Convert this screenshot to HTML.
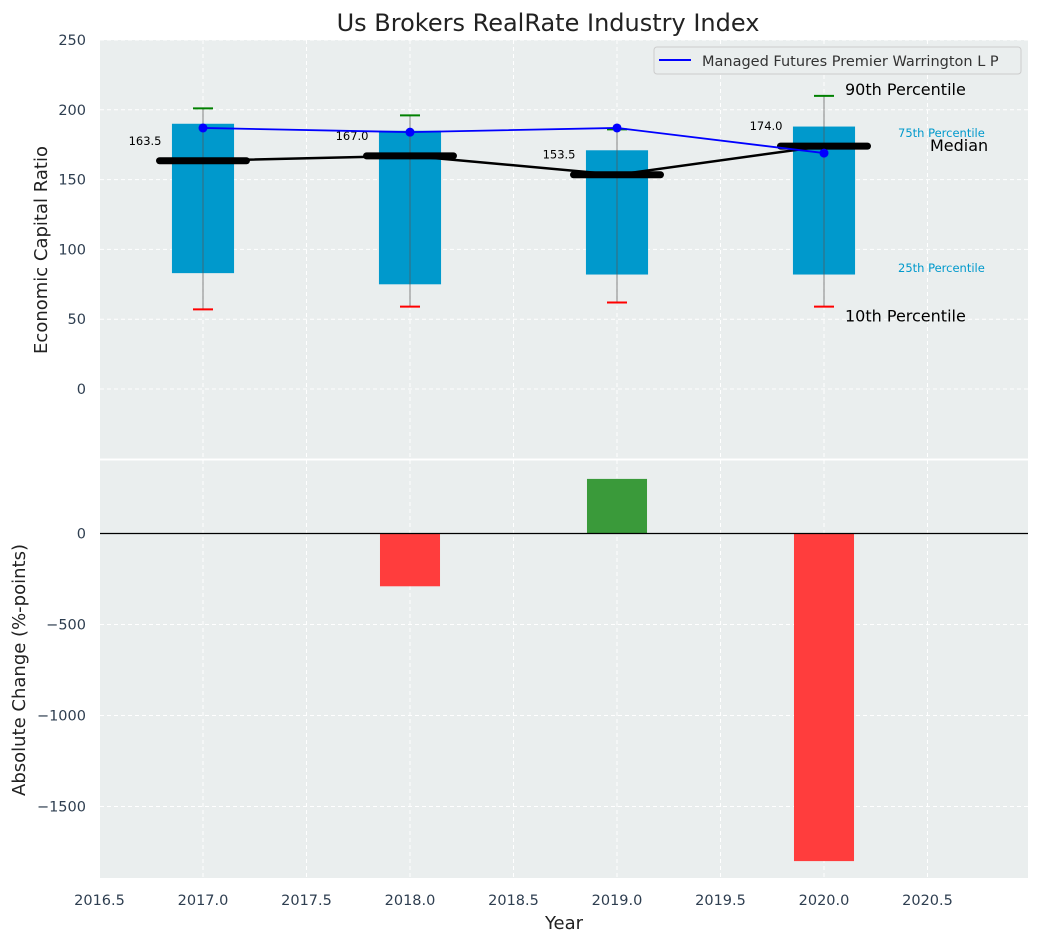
<!DOCTYPE html>
<html><head><meta charset="utf-8"><style>body{margin:0;background:#fff}svg{font-family:"DejaVu Sans","Liberation Sans",sans-serif}</style></head>
<body>
<svg id="c" width="1039" height="942" xmlns="http://www.w3.org/2000/svg"></svg>
<script>
const years=[2017,2018,2019,2020];
const q1=[83,75,82,82];
const q3=[190,185,171,188];
const p10=[57,59,62,59];
const p90=[201,196,186,210];
const medians=[163.5,167.0,153.5,174.0];
const company=[187,184,187,169];
const changes=[0,-290,300,-1800];
const topTicks=[0,50,100,150,200,250];
const botTicks=[0,-500,-1000,-1500];
const xTicks=[2016.5,2017,2017.5,2018,2018.5,2019,2019.5,2020,2020.5];

const svg=document.getElementById('c');const NS='http://www.w3.org/2000/svg';
function el(t,a,txt){const e=document.createElementNS(NS,t);for(const k in a)e.setAttribute(k,a[k]);if(txt!==undefined)e.textContent=txt;svg.appendChild(e);return e;}
const X=v=>99.5+(v-2016.5)*207;
const Y1=v=>389-v*1.396;
const Y2=v=>533.5-v*0.182;
const L=100,R=1028,T1=40,B1=459,T2=460,B2=878;

let e;
e=el('rect',{x:L,y:T1,width:R-L,height:B1-T1,fill:'#eaeeee'});
e=el('rect',{x:L,y:T2,width:R-L,height:B2-T2,fill:'#eaeeee'});
xTicks.forEach(t=>{[[T1,B1],[T2,B2]].forEach(([a,b])=>{e=el('line',{x1:X(t),x2:X(t),y1:a,y2:b,stroke:'#fff','stroke-dasharray':'4,3','stroke-width':1});});
 e=el('text',{x:X(t),y:905,'text-anchor':'middle','font-size':14.5,fill:'#2e3e50'},t.toFixed(1));});
topTicks.forEach(t=>{e=el('line',{x1:L,x2:R,y1:Y1(t),y2:Y1(t),stroke:'#fff','stroke-dasharray':'4,3'});
 e=el('text',{x:86,y:Y1(t)+5,'text-anchor':'end','font-size':14.5,fill:'#2e3e50'},t);});
botTicks.forEach(t=>{e=el('line',{x1:L,x2:R,y1:Y2(t),y2:Y2(t),stroke:'#fff','stroke-dasharray':'4,3'});
 e=el('text',{x:86,y:Y2(t)+5,'text-anchor':'end','font-size':14.5,fill:'#2e3e50'},t<0?'\u2212'+(-t):t);});
years.forEach((yr,i)=>{const x=X(yr);
 e=el('rect',{x:X(yr-0.15),y:Y1(q3[i]),width:X(yr+0.15)-X(yr-0.15),height:Y1(q1[i])-Y1(q3[i]),fill:'#0099cc'});
 e=el('line',{x1:x,x2:x,y1:Y1(p90[i]),y2:Y1(p10[i]),stroke:'#555','stroke-width':1,opacity:0.7});
 e=el('line',{x1:x-10,x2:x+10,y1:Y1(p90[i]),y2:Y1(p90[i]),stroke:'green','stroke-width':2});
 e=el('line',{x1:x-10,x2:x+10,y1:Y1(p10[i]),y2:Y1(p10[i]),stroke:'red','stroke-width':2});
});
e=el('polyline',{points:years.map((y,i)=>X(y)+','+Y1(medians[i])).join(' '),fill:'none',stroke:'#000','stroke-width':2.5});
years.forEach((yr,i)=>{e=el('line',{x1:X(yr-0.21),x2:X(yr+0.21),y1:Y1(medians[i]),y2:Y1(medians[i]),stroke:'#000','stroke-width':7,'stroke-linecap':'round'});
 e=el('text',{x:X(yr-0.21)+2,y:Y1(medians[i])-16,'text-anchor':'end','font-size':11.5,fill:'#000'},medians[i].toFixed(1));});
e=el('polyline',{points:years.map((y,i)=>X(y)+','+Y1(company[i])).join(' '),fill:'none',stroke:'#0000ff','stroke-width':1.8});
years.forEach((yr,i)=>{e=el('circle',{cx:X(yr),cy:Y1(company[i]),r:4.5,fill:'#0000ff'});});
const lx=X(2020)+21;
e=el('text',{x:lx,y:Y1(p90[3])-1,'font-size':16,fill:'#000'},'90th Percentile');
e=el('text',{x:lx,y:Y1(p10[3])+15,'font-size':16,fill:'#000'},'10th Percentile');
e=el('text',{x:898,y:137,'font-size':11.5,fill:'#0099cc'},'75th Percentile');
e=el('text',{x:898,y:272,'font-size':11.5,fill:'#0099cc'},'25th Percentile');
e=el('text',{x:930,y:151,'font-size':16,fill:'#000'},'Median');
e=el('rect',{x:654,y:47,width:367,height:27,rx:3,fill:'#eaeeee',stroke:'#ccc'});
e=el('line',{x1:659,x2:691,y1:60,y2:60,stroke:'#0000ff','stroke-width':2});
e=el('text',{x:702,y:66,'font-size':14.5,fill:'#333'},'Managed Futures Premier Warrington L P');
years.forEach((yr,i)=>{if(!changes[i])return;const v=changes[i];
 e=el('rect',{x:X(yr-0.145),y:Math.min(Y2(v),Y2(0)),width:X(yr+0.145)-X(yr-0.145),height:Math.abs(Y2(v)-Y2(0)),fill:v>0?'#3a9a3a':'#ff3d3d'});});
e=el('line',{x1:L,x2:R,y1:Y2(0),y2:Y2(0),stroke:'#000','stroke-width':1.2});
e=el('line',{x1:L,x2:R,y1:459.5,y2:459.5,stroke:'#fff','stroke-width':2});
e=el('text',{x:548,y:31,'text-anchor':'middle','font-size':24,fill:'#222'},'Us Brokers RealRate Industry Index');
e=el('text',{x:0,y:0,transform:'translate(47,250) rotate(-90)','text-anchor':'middle','font-size':18,fill:'#222'},'Economic Capital Ratio');
e=el('text',{x:0,y:0,transform:'translate(25,670) rotate(-90)','text-anchor':'middle','font-size':18,fill:'#222'},'Absolute Change (%-points)');
e=el('text',{x:564,y:929,'text-anchor':'middle','font-size':18,fill:'#222'},'Year');
</script>
</body></html>
